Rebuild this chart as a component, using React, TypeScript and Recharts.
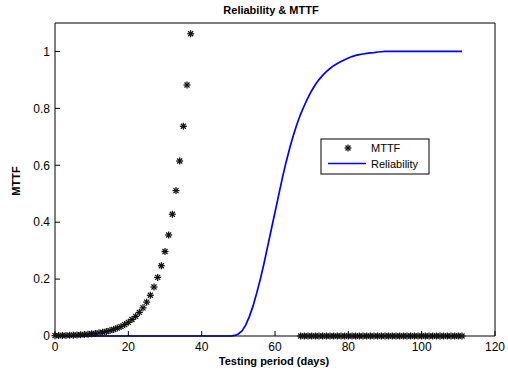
import { ComposedChart, Line, Scatter, XAxis, YAxis } from 'recharts';

// testing period, one entry per day
const days = [
  0, 1, 2, 3, 4, 5, 6, 7, 8, 9, 10, 11, 12, 13, 14, 15, 16, 17, 18, 19,
  20, 21, 22, 23, 24, 25, 26, 27, 28, 29, 30, 31, 32, 33, 34, 35, 36, 37, 38, 39,
  40, 41, 42, 43, 44, 45, 46, 47, 48, 49, 50, 51, 52, 53, 54, 55, 56, 57, 58, 59,
  60, 61, 62, 63, 64, 65, 66, 67, 68, 69, 70, 71, 72, 73, 74, 75, 76, 77, 78, 79,
  80, 81, 82, 83, 84, 85, 86, 87, 88, 89, 90, 91, 92, 93, 94, 95, 96, 97, 98, 99,
  100, 101, 102, 103, 104, 105, 106, 107, 108, 109, 110, 111,
];

// reliability for each day above
const reliability = [
  0, 0, 0, 0, 0, 0, 0, 0, 0, 0, 0, 0, 0, 0, 0, 0, 0, 0, 0, 0,
  0, 0, 0, 0, 0, 0, 0, 0, 0, 0, 0, 0, 0, 0, 0, 0, 0, 0, 0, 0,
  0, 0, 0, 0, 0, 0, 0, 0, 0, 0.002, 0.007, 0.018, 0.038, 0.068, 0.105, 0.15, 0.2, 0.255, 0.315, 0.375,
  0.435, 0.495, 0.555, 0.61, 0.66, 0.705, 0.745, 0.78, 0.81, 0.838, 0.862, 0.883, 0.901, 0.916, 0.929, 0.94, 0.95, 0.958, 0.965, 0.971,
  0.977, 0.982, 0.986, 0.989, 0.991, 0.993, 0.995, 0.996, 0.998, 0.999, 1, 1, 1, 1, 1, 1, 1, 1, 1, 1,
  1, 1, 1, 1, 1, 1, 1, 1, 1, 1, 1, 1,
];

// MTTF, days 0..37
const mttfEarly = [
  0.0012, 0.0015, 0.0018, 0.002, 0.0025, 0.003, 0.0037, 0.0045, 0.005, 0.006,
  0.008, 0.009, 0.011, 0.013, 0.016, 0.019, 0.023, 0.028, 0.033, 0.04,
  0.048, 0.058, 0.069, 0.083, 0.099, 0.119, 0.143, 0.172, 0.206, 0.247,
  0.297, 0.355, 0.428, 0.511, 0.615, 0.737, 0.882, 1.062,
];

// MTTF, days 67..111
const mttfLate = [
  0, 0, 0, 0, 0, 0, 0, 0, 0, 0, 0, 0, 0, 0, 0, 0, 0, 0, 0, 0,
  0, 0, 0, 0, 0, 0, 0, 0, 0, 0, 0, 0, 0, 0, 0, 0, 0, 0, 0, 0,
  0, 0, 0, 0, 0,
];

const xTicks = [0, 20, 40, 60, 80, 100, 120];
const yTicks = [0, 0.2, 0.4, 0.6, 0.8, 1];

const FONT = '"Liberation Sans", Arial, Helvetica, sans-serif';

const relData = days.map((d, i) => ({ x: d, y: reliability[i] }));
const mttfData = [
  ...days.slice(0, 38).map((d, i) => ({ x: d, y: mttfEarly[i] })),
  ...days.slice(67).map((d, i) => ({ x: d, y: mttfLate[i] })),
];

const Star = (props: any) => {
  const { cx, cy } = props;
  const r = 3.5;
  const d = 2.5;
  return (
    <g stroke="#111" strokeWidth={1.25}>
      <line x1={cx - r} y1={cy} x2={cx + r} y2={cy} />
      <line x1={cx} y1={cy - r} x2={cx} y2={cy + r} />
      <line x1={cx - d} y1={cy - d} x2={cx + d} y2={cy + d} />
      <line x1={cx - d} y1={cy + d} x2={cx + d} y2={cy - d} />
    </g>
  );
};

const tickStyle = { fill: '#000', fontSize: 12, fontFamily: FONT };
const blank = () => '';

export default function App() {
  return (
    <div style={{ position: 'absolute', left: 0, top: 0, width: 508, height: 372, background: '#fff' }}>
      <ComposedChart width={508} height={372} margin={{ top: 22, right: 12, bottom: 35, left: 54 }}>
        <XAxis
          xAxisId="b"
          type="number"
          dataKey="x"
          domain={[0, 120]}
          ticks={xTicks}
          height={1}
          tickSize={-5}
          tickMargin={11}
          tick={tickStyle}
          stroke="#000"
        />
        <XAxis
          xAxisId="t"
          orientation="top"
          type="number"
          dataKey="x"
          domain={[0, 120]}
          ticks={xTicks}
          height={1}
          tickSize={-5}
          tickFormatter={blank}
          stroke="#000"
        />
        <YAxis
          yAxisId="l"
          type="number"
          dataKey="y"
          domain={[0, 1.1]}
          ticks={yTicks}
          width={1}
          tickSize={-5}
          tickMargin={10}
          tick={tickStyle}
          stroke="#000"
        />
        <YAxis
          yAxisId="r"
          orientation="right"
          type="number"
          domain={[0, 1.1]}
          ticks={yTicks}
          width={1}
          tickSize={-5}
          tickFormatter={blank}
          stroke="#000"
        />
        <Line
          xAxisId="b"
          yAxisId="l"
          data={relData}
          dataKey="y"
          type="linear"
          stroke="#0000ff"
          strokeWidth={1.7}
          dot={false}
          isAnimationActive={false}
        />
        <Scatter
          xAxisId="b"
          yAxisId="l"
          data={mttfData}
          dataKey="y"
          shape={Star}
          isAnimationActive={false}
        />
      </ComposedChart>
      <svg
        width={508}
        height={372}
        style={{ position: 'absolute', left: 0, top: 0, pointerEvents: 'none' }}
        fontFamily={FONT}
      >
        <text x={271} y={13.5} textAnchor="middle" fontSize={11} fontWeight="bold">
          Reliability &amp; MTTF
        </text>
        <text x={274} y={365} textAnchor="middle" fontSize={11} fontWeight="bold">
          Testing period (days)
        </text>
        <text x={20} y={181} textAnchor="middle" fontSize={11} fontWeight="bold" transform="rotate(-90 20 181)">
          MTTF
        </text>
        <rect x={321} y={139} width={108} height={35} fill="#fff" stroke="#000" strokeWidth={1} />
        <Star cx={348} cy={148} />
        <text x={371} y={152} fontSize={11}>MTTF</text>
        <line x1={328} y1={163.5} x2={366} y2={163.5} stroke="#0000ff" strokeWidth={1.7} />
        <text x={371} y={168} fontSize={11}>Reliability</text>
      </svg>
    </div>
  );
}
